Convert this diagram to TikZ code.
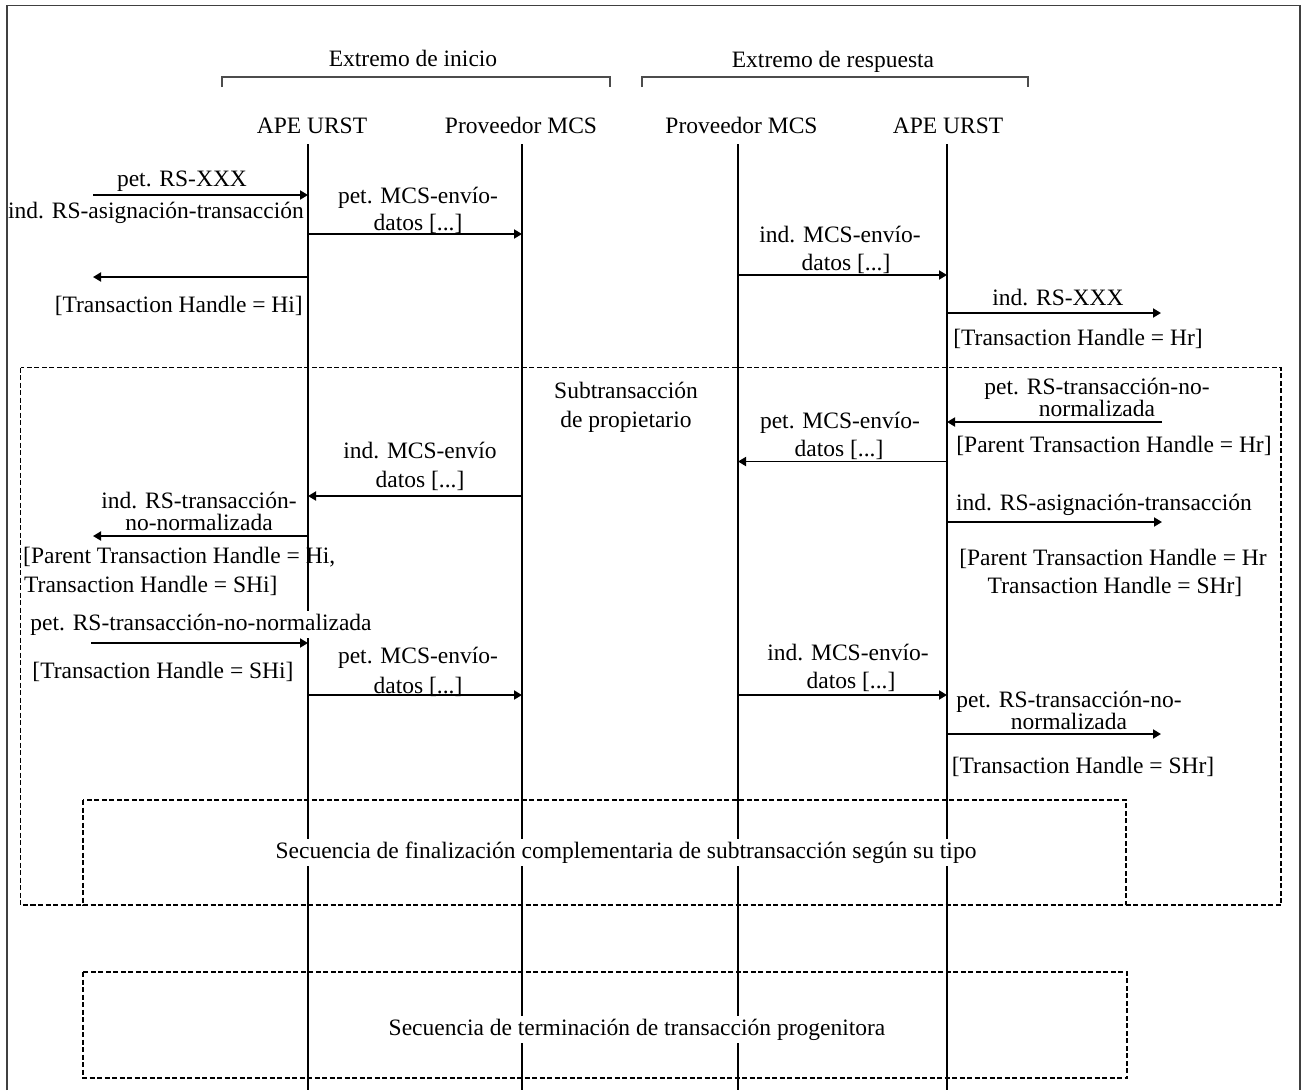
\documentclass[tikz,border=0pt]{standalone}
\usepackage{fontspec}
\setmainfont{Liberation Serif}
\usetikzlibrary{arrows.meta}
\begin{document}
\begin{tikzpicture}[x=1pt,y=-1pt,
  lbl/.style={font=\fontsize{23.5}{28}\selectfont, inner sep=0pt, anchor=base},
  tight/.style={font=\fontsize{23.5}{19}\selectfont, inner sep=0pt, align=center, anchor=south},
  cover/.style={fill=white, inner sep=2.5pt},
  life/.style={line width=1.4pt},
  frame/.style={line width=1.3pt, draw=black!75},
  brk/.style={line width=1.1pt, draw=black!70},
  msg/.style={line width=1.8pt, -{Triangle[length=8pt,width=9pt]}},
  dbox/.style={line width=1.2pt, dash pattern=on 5pt off 2.5pt}
]
\useasboundingbox (0,0) rectangle (1303,1090);
\fill[white] (0,0) rectangle (1303,1090);

% outer frame (open at bottom)
\draw[frame] (7,1090) -- (7,5.5) -- (1300,5.5) -- (1300,1090);

% group titles and brackets
\node[lbl] (gi) at (413,66) {Extremo de inicio};
\node[lbl] (gr) at (833,67) {Extremo de respuesta};
\draw[brk] (222,87) -- (222,77) -- (610,77) -- (610,87);
\draw[brk] (642,87) -- (642,77) -- (1028,77) -- (1028,87);

% headers
\node[lbl] (h1) at (312,133) {APE URST};
\node[lbl] (h2) at (521,133) {Proveedor MCS};
\node[lbl] (h3) at (741.5,133) {Proveedor MCS};
\node[lbl] (h4) at (948,133) {APE URST};

% lifelines
\coordinate (L1t) at (308,144); \coordinate (L1b) at (308,1090);
\coordinate (L2t) at (522,144); \coordinate (L2b) at (522,1090);
\coordinate (L3t) at (738,144); \coordinate (L3b) at (738,1090);
\coordinate (L4t) at (947,144); \coordinate (L4b) at (947,1090);
\foreach \i in {1,2,3,4} \draw[life] (L\i t) -- (L\i b);

% dashed boxes
\draw[dbox] (20.5,367.5) rectangle (1281,905);
\draw[dbox] (83,800) rectangle (1126,905);
\draw[dbox] (83,972) rectangle (1127,1078);

% box texts (cover lifelines)
\node[lbl,cover] (fin) at (626,858) {Secuencia de finalización complementaria de subtransacción según su tipo};
\node[lbl,cover] (term) at (637,1035) {Secuencia de terminación de transacción progenitora};
\node[lbl] (sub1) at (626,398) {Subtransacción};
\node[lbl] (sub2) at (626,427) {de propietario};

% ---- labels ----
\node[lbl] (t1) at (182,186) {pet. RS-XXX};
\node[lbl,anchor=base east] (t2) at (304,218) {ind. RS-asignación-transacción};
\node[lbl] (t3a) at (418,203) {pet. MCS-envío-};
\node[lbl] (t3b) at (418,230) {datos [...]};
\node[lbl,anchor=base east] (t4) at (303,312) {[Transaction Handle = Hi]};
\node[lbl] (t5a) at (840,242) {ind. MCS-envío-};
\node[lbl] (t5b) at (846,270) {datos [...]};
\node[lbl] (t6) at (1058,305) {ind. RS-XXX};
\node[lbl] (t7) at (1078,345) {[Transaction Handle = Hr]};

\node[tight] (t8) at (1097,417) {pet. RS-transacción-no-\\normalizada};
\node[lbl] (t9) at (1114,452) {[Parent Transaction Handle = Hr]};
\node[lbl] (t10a) at (840,428) {pet. MCS-envío-};
\node[lbl] (t10b) at (839,456) {datos [...]};
\node[lbl] (t11a) at (420,458) {ind. MCS-envío};
\node[lbl] (t11b) at (420,487) {datos [...]};
\node[lbl] (t12a) at (199,508) {ind. RS-transacción-};
\node[lbl] (t12b) at (199,530) {no-normalizada};
\node[lbl,anchor=base west] (t13a) at (23,563) {[Parent Transaction Handle = Hi,};
\node[lbl,anchor=base west] (t13b) at (24,592) {Transaction Handle = SHi]};
\node[lbl] (t14) at (1104,510) {ind. RS-asignación-transacción};
\node[lbl] (t15a) at (1113,565) {[Parent Transaction Handle = Hr};
\node[lbl] (t15b) at (1115,593) {Transaction Handle = SHr]};

\node[lbl,cover] (t16) at (201,630) {pet. RS-transacción-no-normalizada};
\node[lbl] (t17) at (163,678) {[Transaction Handle = SHi]};
\node[lbl] (t18a) at (418,663) {pet. MCS-envío-};
\node[lbl] (t18b) at (418,693) {datos [...]};
\node[lbl] (t19a) at (848,660) {ind. MCS-envío-};
\node[lbl] (t19b) at (851,688) {datos [...]};
\node[tight] (t20) at (1069,730) {pet. RS-transacción-no-\\normalizada};
\node[lbl] (t21) at (1083,773) {[Transaction Handle = SHr]};

% ---- messages ----
\coordinate (m1) at (93,195);   \draw[msg] (m1) -- (L1t |- m1);
\coordinate (m2) at (0,234);    \draw[msg] (L1t |- m2) -- (L2t |- m2);
\coordinate (m3) at (93,277);   \draw[msg] (L1t |- m3) -- (m3);
\coordinate (m4) at (0,275);    \draw[msg] (L3t |- m4) -- (L4t |- m4);
\coordinate (m5) at (1161,313); \draw[msg] (L4t |- m5) -- (m5);
\coordinate (m6) at (1162,422); \draw[msg] (m6) -- (L4t |- m6);
\coordinate (m7) at (0,461.5);  \draw[msg] (L4t |- m7) -- (L3t |- m7);
\coordinate (m8) at (0,496);    \draw[msg] (L2t |- m8) -- (L1t |- m8);
\coordinate (m9) at (93,536);   \draw[msg] (L1t |- m9) -- (m9);
\coordinate (m10) at (1162,522);\draw[msg] (L4t |- m10) -- (m10);
\coordinate (m11) at (91,643);  \draw[msg] (m11) -- (L1t |- m11);
\coordinate (m12) at (0,695);   \draw[msg] (L1t |- m12) -- (L2t |- m12);
\coordinate (m13) at (0,695);   \draw[msg] (L3t |- m13) -- (L4t |- m13);
\coordinate (m14) at (1161,734);\draw[msg] (L4t |- m14) -- (m14);
\end{tikzpicture}
\end{document}
